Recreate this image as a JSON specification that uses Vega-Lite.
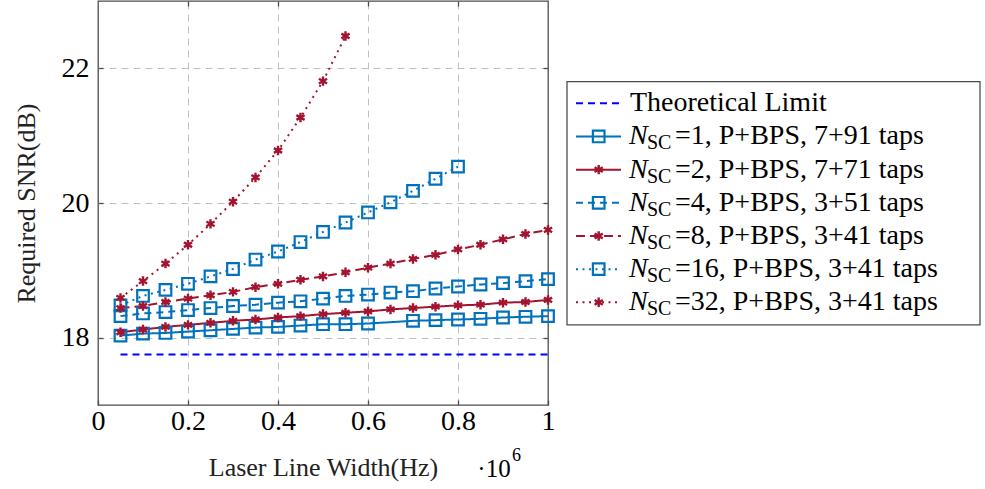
{
  "$schema": "https://vega.github.io/schema/vega-lite/v6.json",
  "autosize": {"type": "pad"},
  "padding": {"left": 12, "top": -1, "right": 0, "bottom": 0},
  "bounds": "flush",
  "spacing": 19,
  "config": {
    "font": "Liberation Serif, serif",
    "view": {"stroke": "#4d4d4d", "strokeWidth": 1.3},
    "axis": {
      "labelFont": "Liberation Serif, serif",
      "titleFont": "Liberation Serif, serif",
      "labelColor": "#000000",
      "titleColor": "#222222",
      "titleFontWeight": "normal",
      "labelFlush": false,
      "domain": false,
      "tickColor": "#4d4d4d",
      "tickWidth": 1.3,
      "gridColor": "#c0c0c0",
      "gridDash": [7, 5],
      "gridWidth": 1
    },
    "text": {"font": "Liberation Serif, serif", "color": "#000000"}
  },
  "datasets": {
    "curves": [
      {"s": "T", "x": 0.05, "y": 17.75}, {"s": "T", "x": 1.0, "y": 17.75},

      {"s": "1", "x": 0.05, "y": 18.03}, {"s": "1", "x": 0.10, "y": 18.06}, {"s": "1", "x": 0.15, "y": 18.07},
      {"s": "1", "x": 0.20, "y": 18.09}, {"s": "1", "x": 0.25, "y": 18.11}, {"s": "1", "x": 0.30, "y": 18.13},
      {"s": "1", "x": 0.35, "y": 18.15}, {"s": "1", "x": 0.40, "y": 18.16}, {"s": "1", "x": 0.45, "y": 18.18},
      {"s": "1", "x": 0.50, "y": 18.20}, {"s": "1", "x": 0.55, "y": 18.20}, {"s": "1", "x": 0.60, "y": 18.21},
      {"s": "1", "x": 0.70, "y": 18.25}, {"s": "1", "x": 0.75, "y": 18.26}, {"s": "1", "x": 0.80, "y": 18.27},
      {"s": "1", "x": 0.85, "y": 18.28}, {"s": "1", "x": 0.90, "y": 18.30}, {"s": "1", "x": 0.95, "y": 18.31},
      {"s": "1", "x": 1.00, "y": 18.32},

      {"s": "2", "x": 0.05, "y": 18.08}, {"s": "2", "x": 0.10, "y": 18.12}, {"s": "2", "x": 0.15, "y": 18.16},
      {"s": "2", "x": 0.20, "y": 18.19}, {"s": "2", "x": 0.25, "y": 18.22}, {"s": "2", "x": 0.30, "y": 18.25},
      {"s": "2", "x": 0.35, "y": 18.27}, {"s": "2", "x": 0.40, "y": 18.30}, {"s": "2", "x": 0.45, "y": 18.32},
      {"s": "2", "x": 0.50, "y": 18.35}, {"s": "2", "x": 0.55, "y": 18.37}, {"s": "2", "x": 0.60, "y": 18.39},
      {"s": "2", "x": 0.65, "y": 18.42}, {"s": "2", "x": 0.70, "y": 18.44}, {"s": "2", "x": 0.75, "y": 18.46},
      {"s": "2", "x": 0.80, "y": 18.48}, {"s": "2", "x": 0.85, "y": 18.49}, {"s": "2", "x": 0.90, "y": 18.52},
      {"s": "2", "x": 0.95, "y": 18.53}, {"s": "2", "x": 1.00, "y": 18.56},

      {"s": "4", "x": 0.05, "y": 18.32}, {"s": "4", "x": 0.10, "y": 18.36}, {"s": "4", "x": 0.15, "y": 18.38},
      {"s": "4", "x": 0.20, "y": 18.41}, {"s": "4", "x": 0.25, "y": 18.44}, {"s": "4", "x": 0.30, "y": 18.47},
      {"s": "4", "x": 0.35, "y": 18.49}, {"s": "4", "x": 0.40, "y": 18.52}, {"s": "4", "x": 0.45, "y": 18.54},
      {"s": "4", "x": 0.50, "y": 18.58}, {"s": "4", "x": 0.55, "y": 18.62}, {"s": "4", "x": 0.60, "y": 18.64},
      {"s": "4", "x": 0.65, "y": 18.67}, {"s": "4", "x": 0.70, "y": 18.69}, {"s": "4", "x": 0.75, "y": 18.73},
      {"s": "4", "x": 0.80, "y": 18.76}, {"s": "4", "x": 0.85, "y": 18.79}, {"s": "4", "x": 0.90, "y": 18.81},
      {"s": "4", "x": 0.95, "y": 18.84}, {"s": "4", "x": 1.00, "y": 18.87},

      {"s": "8", "x": 0.05, "y": 18.44}, {"s": "8", "x": 0.10, "y": 18.47}, {"s": "8", "x": 0.15, "y": 18.53},
      {"s": "8", "x": 0.20, "y": 18.58}, {"s": "8", "x": 0.25, "y": 18.63}, {"s": "8", "x": 0.30, "y": 18.68},
      {"s": "8", "x": 0.35, "y": 18.75}, {"s": "8", "x": 0.40, "y": 18.80}, {"s": "8", "x": 0.45, "y": 18.86},
      {"s": "8", "x": 0.50, "y": 18.91}, {"s": "8", "x": 0.55, "y": 18.97}, {"s": "8", "x": 0.60, "y": 19.04},
      {"s": "8", "x": 0.65, "y": 19.10}, {"s": "8", "x": 0.70, "y": 19.17}, {"s": "8", "x": 0.75, "y": 19.23},
      {"s": "8", "x": 0.80, "y": 19.31}, {"s": "8", "x": 0.85, "y": 19.38}, {"s": "8", "x": 0.90, "y": 19.46},
      {"s": "8", "x": 0.95, "y": 19.54}, {"s": "8", "x": 1.00, "y": 19.60},

      {"s": "16", "x": 0.05, "y": 18.48}, {"s": "16", "x": 0.10, "y": 18.62}, {"s": "16", "x": 0.15, "y": 18.71},
      {"s": "16", "x": 0.20, "y": 18.80}, {"s": "16", "x": 0.25, "y": 18.91}, {"s": "16", "x": 0.30, "y": 19.02},
      {"s": "16", "x": 0.35, "y": 19.16}, {"s": "16", "x": 0.40, "y": 19.28}, {"s": "16", "x": 0.45, "y": 19.42},
      {"s": "16", "x": 0.50, "y": 19.57}, {"s": "16", "x": 0.55, "y": 19.71}, {"s": "16", "x": 0.60, "y": 19.86},
      {"s": "16", "x": 0.65, "y": 20.01}, {"s": "16", "x": 0.70, "y": 20.18}, {"s": "16", "x": 0.75, "y": 20.36},
      {"s": "16", "x": 0.80, "y": 20.54},

      {"s": "32", "x": 0.05, "y": 18.59}, {"s": "32", "x": 0.10, "y": 18.84}, {"s": "32", "x": 0.15, "y": 19.10},
      {"s": "32", "x": 0.20, "y": 19.38}, {"s": "32", "x": 0.25, "y": 19.69}, {"s": "32", "x": 0.30, "y": 20.02},
      {"s": "32", "x": 0.35, "y": 20.38}, {"s": "32", "x": 0.40, "y": 20.78}, {"s": "32", "x": 0.45, "y": 21.27},
      {"s": "32", "x": 0.50, "y": 21.81}, {"s": "32", "x": 0.55, "y": 22.48}
    ],
    "keys": [
      {"s": "T", "rank": 0, "lbl": "Theoretical Limit"},
      {"s": "1", "rank": 1, "lbl": "=1, P+BPS, 7+91 taps"},
      {"s": "2", "rank": 2, "lbl": "=2, P+BPS, 7+71 taps"},
      {"s": "4", "rank": 3, "lbl": "=4, P+BPS, 3+51 taps"},
      {"s": "8", "rank": 4, "lbl": "=8, P+BPS, 3+41 taps"},
      {"s": "16", "rank": 5, "lbl": "=16, P+BPS, 3+41 taps"},
      {"s": "32", "rank": 6, "lbl": "=32, P+BPS, 3+41 taps"}
    ]
  },
  "hconcat": [
    {
      "width": 450,
      "height": 404,
      "data": {"name": "curves"},
      "layer": [
        {
          "mark": {"type": "line", "strokeWidth": 2, "strokeCap": "butt"},
          "encoding": {
            "x": {
              "field": "x", "type": "quantitative",
              "scale": {"domain": [0, 1], "nice": false, "zero": false},
              "axis": {
                "orient": "bottom", "values": [0, 0.2, 0.4, 0.6, 0.8, 1], "format": "~g",
                "grid": false, "tickSize": -5, "labelPadding": 7, "labelFontSize": 28,
                "labelFont": "Liberation Serif, serif", "labelFlush": false,
                "title": "Laser Line Width(Hz)", "titleFont": "Liberation Serif, serif", "titleFontSize": 26, "titlePadding": 19
              }
            },
            "y": {
              "field": "y", "type": "quantitative",
              "scale": {"domain": [17, 23], "nice": false, "zero": false},
              "axis": {
                "orient": "left", "values": [18, 20, 22],
                "grid": false, "tickSize": -5, "labelPadding": 14, "labelFontSize": 28,
                "labelFont": "Liberation Serif, serif",
                "title": "Required SNR(dB)", "titleFont": "Liberation Serif, serif", "titleFontSize": 26, "titlePadding": 22
              }
            },
            "color": {
              "field": "s", "type": "nominal", "legend": null,
              "scale": {
                "domain": ["T", "1", "2", "4", "8", "16", "32"],
                "range": ["#0000ff", "#0072bd", "#a2142f", "#0072bd", "#a2142f", "#0072bd", "#a2142f"]
              }
            },
            "strokeDash": {
              "field": "s", "type": "nominal", "legend": null,
              "scale": {
                "domain": ["T", "1", "2", "4", "8", "16", "32"],
                "range": [[7, 5], [1, 0], [1, 0], [7, 5], [9, 5], [2, 4.5], [2, 4.5]]
              }
            }
          }
        },
        {
          "transform": [{"filter": {"field": "s", "oneOf": ["1", "4", "16"]}}],
          "mark": {"type": "point", "shape": "M-1,-1H1V1H-1Z", "filled": false, "size": 135, "strokeWidth": 2.2, "opacity": 1},
          "encoding": {
            "x": {
              "field": "x", "type": "quantitative",
              "axis": {"orient": "top", "values": [0.2, 0.4, 0.6, 0.8], "labels": false, "grid": true, "tickSize": -5, "title": null}
            },
            "y": {
              "field": "y", "type": "quantitative",
              "axis": {"orient": "right", "values": [18, 20, 22], "labels": false, "grid": true, "tickSize": -5, "title": null}
            },
            "color": {"field": "s", "type": "nominal", "legend": null}
          }
        },
        {
          "transform": [{"filter": {"field": "s", "oneOf": ["2", "8", "32"]}}],
          "mark": {"type": "point", "shape": "M0,-1V1M-0.866,-0.5L0.866,0.5M-0.866,0.5L0.866,-0.5", "filled": false, "size": 90, "strokeWidth": 2.4, "opacity": 1},
          "encoding": {
            "x": {"field": "x", "type": "quantitative", "axis": null},
            "y": {"field": "y", "type": "quantitative", "axis": null},
            "color": {"field": "s", "type": "nominal", "legend": null}
          }
        },
        {
          "data": {"values": [{"x": 0.843, "y": 16.05, "t": "·10"}]},
          "mark": {"type": "text", "align": "left", "baseline": "middle", "fontSize": 25, "font": "Liberation Serif, serif"},
          "encoding": {
            "x": {"field": "x", "type": "quantitative", "axis": null},
            "y": {"field": "y", "type": "quantitative", "axis": null},
            "text": {"field": "t"}
          }
        },
        {
          "data": {"values": [{"x": 0.92, "y": 16.25, "t": "6"}]},
          "mark": {"type": "text", "align": "left", "baseline": "middle", "fontSize": 18, "font": "Liberation Serif, serif"},
          "encoding": {
            "x": {"field": "x", "type": "quantitative", "axis": null},
            "y": {"field": "y", "type": "quantitative", "axis": null},
            "text": {"field": "t"}
          }
        }
      ],
      "resolve": {"axis": {"x": "independent", "y": "independent"}}
    },
    {
      "width": 413,
      "height": 404,
      "view": {"stroke": null},
      "data": {"name": "keys"},
      "layer": [
        {
          "data": {"values": [{"box": "legend"}]},
          "mark": {"type": "rect", "fill": "#ffffff", "stroke": "#4d4d4d", "strokeWidth": 1.3},
          "encoding": {
            "x": {"datum": 0, "type": "quantitative", "scale": {"domain": [0, 413], "nice": false, "zero": false}, "axis": null},
            "x2": {"datum": 413},
            "y": {"datum": -0.651, "type": "quantitative", "scale": {"domain": [-3.084, 9.096], "reverse": true, "nice": false, "zero": false}, "axis": null},
            "y2": {"datum": 6.68}
          }
        },
        {
          "mark": {"type": "rule", "strokeWidth": 2, "strokeCap": "butt"},
          "encoding": {
            "x": {"datum": 9, "type": "quantitative"},
            "x2": {"datum": 54},
            "y": {"field": "rank", "type": "quantitative"},
            "color": {
              "field": "s", "type": "nominal", "legend": null,
              "scale": {
                "domain": ["T", "1", "2", "4", "8", "16", "32"],
                "range": ["#0000ff", "#0072bd", "#a2142f", "#0072bd", "#a2142f", "#0072bd", "#a2142f"]
              }
            },
            "strokeDash": {
              "field": "s", "type": "nominal", "legend": null,
              "scale": {
                "domain": ["T", "1", "2", "4", "8", "16", "32"],
                "range": [[7, 5], [1, 0], [1, 0], [7, 5], [9, 5], [2, 4.5], [2, 4.5]]
              }
            }
          }
        },
        {
          "transform": [{"filter": {"field": "s", "oneOf": ["1", "4", "16"]}}],
          "mark": {"type": "point", "shape": "M-1,-1H1V1H-1Z", "filled": false, "size": 135, "strokeWidth": 2.2, "opacity": 1},
          "encoding": {
            "x": {"datum": 31.7, "type": "quantitative"},
            "y": {"field": "rank", "type": "quantitative"},
            "color": {"field": "s", "type": "nominal", "legend": null}
          }
        },
        {
          "transform": [{"filter": {"field": "s", "oneOf": ["2", "8", "32"]}}],
          "mark": {"type": "point", "shape": "M0,-1V1M-0.866,-0.5L0.866,0.5M-0.866,0.5L0.866,-0.5", "filled": false, "size": 90, "strokeWidth": 2.4, "opacity": 1},
          "encoding": {
            "x": {"datum": 31.7, "type": "quantitative"},
            "y": {"field": "rank", "type": "quantitative"},
            "color": {"field": "s", "type": "nominal", "legend": null}
          }
        },
        {
          "transform": [{"filter": {"field": "s", "equal": "T"}}],
          "mark": {"type": "text", "align": "left", "baseline": "middle", "fontSize": 28, "font": "Liberation Serif, serif"},
          "encoding": {
            "x": {"datum": 63, "type": "quantitative"},
            "y": {"field": "rank", "type": "quantitative"},
            "text": {"field": "lbl"}
          }
        },
        {
          "transform": [{"filter": {"not": {"field": "s", "equal": "T"}}}],
          "mark": {"type": "text", "align": "left", "baseline": "middle", "fontSize": 28, "font": "Liberation Serif, serif", "fontStyle": "italic", "text": "N"},
          "encoding": {
            "x": {"datum": 62, "type": "quantitative"},
            "y": {"field": "rank", "type": "quantitative"}
          }
        },
        {
          "transform": [{"filter": {"not": {"field": "s", "equal": "T"}}}],
          "mark": {"type": "text", "align": "left", "baseline": "middle", "fontSize": 20, "font": "Liberation Serif, serif", "dy": 7, "text": "SC"},
          "encoding": {
            "x": {"datum": 80, "type": "quantitative"},
            "y": {"field": "rank", "type": "quantitative"}
          }
        },
        {
          "transform": [{"filter": {"not": {"field": "s", "equal": "T"}}}],
          "mark": {"type": "text", "align": "left", "baseline": "middle", "fontSize": 28, "font": "Liberation Serif, serif"},
          "encoding": {
            "x": {"datum": 108, "type": "quantitative"},
            "y": {"field": "rank", "type": "quantitative"},
            "text": {"field": "lbl"}
          }
        }
      ]
    }
  ],
  "resolve": {"scale": {"x": "independent", "y": "independent"}}
}
